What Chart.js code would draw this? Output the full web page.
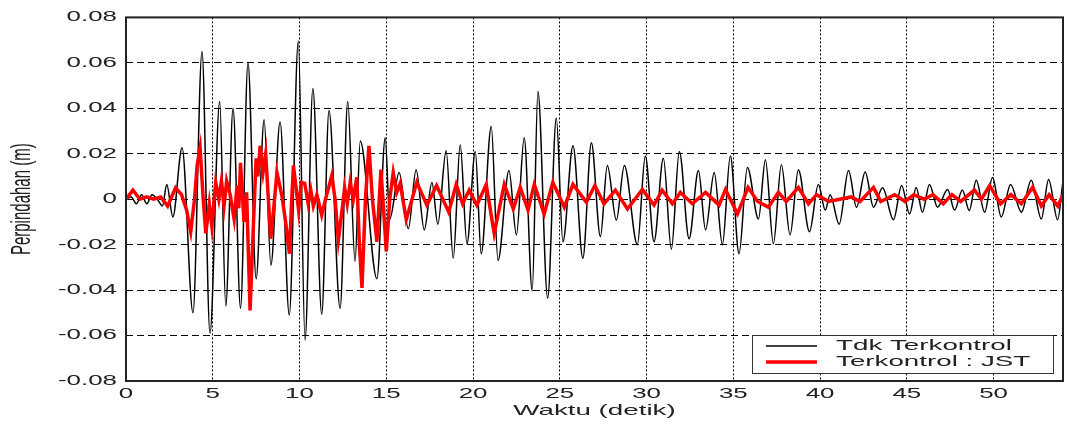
<!DOCTYPE html>
<html><head><meta charset="utf-8">
<script src="https://cdn.jsdelivr.net/npm/chart.js@4.4.0/dist/chart.umd.min.js"></script>
<style>html,body{margin:0;padding:0;background:#fff;}</style>
</head><body>
<canvas id="c" width="1067" height="427"></canvas>
<script>
// ---- data ----
const tBlack = [0,0.3,0.6,0.9,1.2,1.5,1.8,2.1,2.35,2.7,3.23,3.86,4.38,4.84,5.4,5.75,6.17,6.6,7.03,7.5,7.96,8.35,8.88,9.41,9.93,10.32,10.77,11.28,11.7,12.34,12.78,13.2,13.5,14.46,14.94,15.2,15.74,16.27,16.72,17.19,17.63,17.97,18.45,18.86,19.26,19.65,20.13,20.47,21.05,21.44,22.07,22.5,22.95,23.41,23.74,24.3,24.8,25.18,25.76,26.33,26.82,27.34,27.74,28.26,28.72,29.47,29.93,30.43,30.97,31.43,31.89,32.45,32.99,33.4,33.9,34.37,34.83,35.33,35.81,36.45,36.85,37.31,37.77,38.27,38.75,39.39,39.9,40.3,40.58,41.1,41.64,42.1,42.6,43.08,43.6,44.23,44.7,45.16,45.54,45.9,46.3,46.77,47.35,47.75,48.2,48.6,49.0,49.48,49.94,50.44,50.98,51.6,52.17,52.75,53.17,53.69,54];
const vBlack = [0,0.001,-0.002,0.002,-0.002,0.002,0.0,-0.003,0.0065,-0.0078,0.0226,-0.050,0.065,-0.059,0.043,-0.047,0.040,-0.048,0.060,-0.035,0.035,-0.029,0.034,-0.051,0.0696,-0.062,0.0487,-0.0506,0.039,-0.048,0.043,-0.0274,0.0256,-0.035,0.027,-0.0087,0.0117,-0.013,0.013,-0.0135,0.0074,-0.011,0.0213,-0.026,0.024,-0.0196,0.021,-0.024,0.032,-0.027,0.0126,-0.0157,0.027,-0.0404,0.0474,-0.0435,0.0357,-0.0187,0.0235,-0.026,0.0248,-0.0165,0.0148,-0.0092,0.0148,-0.020,0.019,-0.0187,0.018,-0.022,0.021,-0.0174,0.0126,-0.0135,0.0117,-0.020,0.019,-0.024,0.014,-0.0087,0.0174,-0.0196,0.0152,-0.0157,0.013,-0.0143,0.0065,-0.0048,0.002,-0.011,0.0126,-0.0035,0.012,-0.0035,0.005,-0.009,0.006,-0.0065,0.0052,-0.0057,0.0065,-0.0035,0.0043,-0.0048,0.004,-0.005,0.0083,-0.0057,0.0096,-0.0078,0.0065,-0.0057,0.0083,-0.0087,0.0087,-0.009,0.008];
const tRed = [0,0.4,0.8,1.2,1.6,2.0,2.4,2.86,3.2,3.5,3.73,3.95,4.1,4.27,4.45,4.6,4.8,4.95,5.17,5.35,5.5,5.65,5.8,6.0,6.23,6.4,6.5,6.6,6.8,6.95,7.15,7.35,7.5,7.6,7.73,7.9,8.05,8.34,8.5,8.7,8.98,9.2,9.42,9.55,9.65,9.8,9.95,10.1,10.3,10.5,10.65,10.8,11.0,11.28,11.5,11.86,12.05,12.24,12.45,12.6,12.75,12.92,13.1,13.3,13.45,13.6,13.8,14.0,14.2,14.46,14.69,14.85,15.0,15.2,15.4,15.6,15.8,16.15,16.76,17.34,17.9,18.6,19.03,19.4,19.78,20.22,20.76,21.22,21.8,22.32,22.72,23.17,23.53,24.1,24.6,25.26,25.76,26.53,27.02,27.55,28.2,28.9,29.76,30.43,30.9,31.49,31.95,32.64,33.4,34.18,34.55,35.24,35.85,36.4,37.02,37.6,38.05,38.75,39.33,39.8,40.5,41.8,42.3,43.08,43.5,44.3,44.9,45.4,46.0,46.5,47.1,47.6,48.1,48.9,49.3,49.77,50.4,51.0,51.6,52.25,52.75,53.2,53.7,54];
const vRed = [0,0.004,0.0,0.001,0.0,0.001,-0.003,0.005,0.002,-0.005,-0.0143,0.0,0.015,0.0226,0.0,-0.015,-0.002,-0.012,0.0074,0.0,0.008,-0.003,0.008,0.002,-0.0087,0.006,-0.004,0.016,-0.01,0.003,-0.049,-0.01,0.018,0.01,0.0235,0.012,0.02,-0.0174,-0.005,0.0117,0.0017,-0.01,-0.024,0.0,0.0148,0.005,-0.005,0.0074,0.007,-0.002,0.004,-0.003,0.002,-0.007,0.0,0.0104,0.0,-0.018,-0.005,0.005,-0.002,0.0074,0.0,0.0096,-0.02,-0.039,0.0,0.0235,0.0,-0.0187,0.013,-0.005,-0.023,0.0,0.0117,0.003,0.007,-0.009,0.0074,-0.0026,0.006,-0.0057,0.0065,-0.002,0.004,-0.0026,0.0065,-0.015,0.0065,-0.0043,0.0052,-0.0048,0.0065,-0.0065,0.0074,-0.0035,0.0065,-0.0013,0.006,-0.002,0.004,-0.0043,0.0043,-0.0026,0.004,-0.002,0.003,-0.002,0.003,-0.0026,0.0043,-0.0065,0.0052,-0.001,-0.0035,0.003,-0.001,0.0052,-0.002,0.002,-0.001,0.001,-0.001,0.0052,-0.001,0.002,-0.001,0.002,0.0,0.002,-0.002,0.002,-0.001,0.004,0.0,0.006,-0.002,0.002,-0.002,0.0052,-0.003,0.002,-0.003,0.002];
const xTickValues = [0,5,10,15,20,25,30,35,40,45,50];
const xTickLabels = ['0','5','10','15','20','25','30','35','40','45','50'];
const yTickValues = [-0.08,-0.06,-0.04,-0.02,0,0.02,0.04,0.06,0.08];
const yTickLabels = ['-0.08','-0.06','-0.04','-0.02','0','0.02','0.04','0.06','0.08'];
const seriesLabels = ['Tdk Terkontrol','Terkontrol : JST'];
const xTitle = 'Waktu (detik)';
const yTitle = 'Perpindahan (m)';

// ---- rendering ----
const FONT = '"Liberation Sans", Arial, sans-serif';
const SX = 1.85; // reference text is horizontally stretched
const canvas = document.getElementById('c');
const ctx = canvas.getContext('2d');
const nativeFill = CanvasRenderingContext2D.prototype.fillText;
ctx.fillText = function(text, x, y, maxWidth) {
  const m = this.getTransform();
  const rotated = Math.abs(m.b) > 0.5;
  this.save();
  this.translate(x, y);
  if (rotated) this.scale(1, SX); else this.scale(SX, 1);
  if (maxWidth !== undefined && maxWidth !== null) nativeFill.call(this, text, 0, 0, rotated ? maxWidth : maxWidth / SX);
  else nativeFill.call(this, text, 0, 0);
  this.restore();
};

const pts = (ts, vs) => ts.map((t, i) => ({x: t, y: vs[i]}));

const framePlugin = {
  id: 'frame',
  afterDatasetsDraw(chart) {
    const a = chart.chartArea, c = chart.ctx;
    c.save();
    c.strokeStyle = '#222';
    c.lineWidth = 2;
    c.strokeRect(a.left, a.top, a.right - a.left, a.bottom - a.top);
    c.restore();
  }
};

const legendPlugin = {
  id: 'boxLegend',
  afterDraw(chart) {
    const a = chart.chartArea, c = chart.ctx;
    const w = 301, h = 38;
    const x0 = a.right - 10 - w, y0 = a.bottom - 8 - h;
    c.save();
    c.fillStyle = '#fff';
    c.fillRect(x0, y0, w, h);
    c.strokeStyle = '#333';
    c.lineWidth = 1;
    c.strokeRect(x0 + 0.5, y0 + 0.5, w, h);
    chart.data.datasets.forEach((ds, i) => {
      const yy = y0 + 11 + i * 16;
      c.strokeStyle = ds.borderColor;
      c.lineWidth = ds.borderWidth;
      c.beginPath();
      c.moveTo(x0 + 14, yy);
      c.lineTo(x0 + 65, yy);
      c.stroke();
      c.fillStyle = '#222';
      c.font = '15px ' + FONT;
      c.textAlign = 'left';
      c.textBaseline = 'middle';
      c.fillText(ds.label, x0 + 84, yy);
    });
    c.restore();
  }
};

new Chart(ctx, {
  type: 'line',
  data: {
    datasets: [
      {label: seriesLabels[0], data: pts(tBlack, vBlack), borderColor: '#000000', borderWidth: 1.5,
       cubicInterpolationMode: 'monotone', pointRadius: 0, fill: false, order: 1},
      {label: seriesLabels[1], data: pts(tRed, vRed), borderColor: '#ff0000', borderWidth: 3.5,
       tension: 0, pointRadius: 0, fill: false, order: 0}
    ]
  },
  options: {
    responsive: false,
    animation: false,
    layout: {padding: {top: 13, right: 4, left: 0, bottom: 0}},
    plugins: {legend: {display: false}, tooltip: {enabled: false}},
    scales: {
      x: {
        type: 'linear', min: 0, max: 54,
        afterBuildTicks: s => { s.ticks = xTickValues.map(v => ({value: v})); },
        afterFit: s => { s.height = 46; },
        ticks: {font: {family: FONT, size: 14}, color: '#222', padding: 5, maxRotation: 0, autoSkip: false,
                callback: v => { const i = xTickValues.indexOf(v); return i >= 0 ? xTickLabels[i] : ''; }},
        grid: {color: '#000', lineWidth: 1, drawTicks: false},
        border: {display: false, dash: [2, 2]},
        title: {display: true, text: xTitle, font: {family: FONT, size: 15}, color: '#222', padding: {top: 0, bottom: 7}}
      },
      y: {
        type: 'linear', min: -0.08, max: 0.08,
        afterBuildTicks: s => { s.ticks = yTickValues.map(v => ({value: v})); },
        afterFit: s => { s.width = 126; },
        ticks: {font: {family: FONT, size: 14}, color: '#222', padding: 9,
                callback: v => { const i = yTickValues.findIndex(t => Math.abs(t - v) < 1e-9); return i >= 0 ? yTickLabels[i] : ''; }},
        grid: {color: '#000', lineWidth: 1, drawTicks: false},
        border: {display: false, dash: [7, 4]},
        title: {display: true, text: yTitle, font: {family: FONT, size: 15}, color: '#222', padding: {top: 13, bottom: 0}}
      }
    }
  },
  plugins: [framePlugin, legendPlugin]
});
</script>
</body></html>
